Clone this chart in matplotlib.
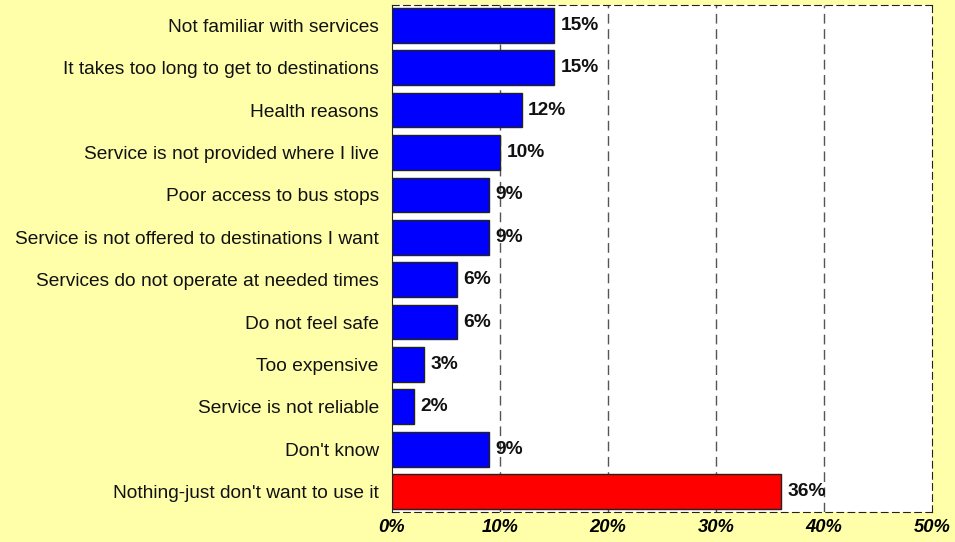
import matplotlib.pyplot as plt
import numpy as np

# Categories and values (percent)
categorias = [
    "Not familiar with services",
    "It takes too long to get to destinations",
    "Health reasons",
    "Service is not provided where I live",
    "Poor access to bus stops",
    "Service is not offered to destinations I want",
    "Services do not operate at needed times",
    "Do not feel safe",
    "Too expensive",
    "Service is not reliable",
    "Don't know",
    "Nothing-just don't want to use it",
]
valores = [15, 15, 12, 10, 9, 9, 6, 6, 3, 2, 9, 36]
colores = ["#0000FF"] * 11 + ["#FF0000"]
ticks_x = [0, 10, 20, 30, 40, 50]

plt.rcParams['font.family'] = ['Liberation Sans', 'DejaVu Sans']

fig = plt.figure(figsize=(9.55, 5.42), dpi=100, facecolor="#FFFFAA")
ax = fig.add_axes([0.4105, 0.0554, 0.5655, 0.9354])
ax.set_facecolor("white")

y = np.arange(len(categorias))
ax.barh(y, valores, height=0.82, color=colores, edgecolor="#222222", linewidth=1, zorder=3)

# Etiquetas de valores
for yi, v in zip(y, valores):
    ax.text(v + 0.6, yi, f"{v}%", va="center", ha="left", fontsize=13.8, fontweight="bold",
            color="#111111", zorder=4)

ax.set_ylim(len(categorias) - 0.52, -0.48)
ax.set_xlim(0, 50)
ax.set_yticks(y)
ax.set_yticklabels(categorias, fontsize=13.8, color="#111111")
ax.set_xticks(ticks_x)
ax.set_xticklabels([f"{t}%" for t in ticks_x], fontsize=13.2, fontweight="bold", fontstyle="italic")
ax.tick_params(axis="y", length=0, pad=9.5)
ax.tick_params(axis="x", length=0, pad=5)

# Grid vertical discontinua
for t in ticks_x[1:-1]:
    ax.axvline(t, color="#555555", linestyle=(0, (7, 4)), linewidth=1, zorder=1)

for lado in ["top", "right", "bottom"]:
    ax.spines[lado].set_linestyle((0, (6, 4)))
    ax.spines[lado].set_color("#222222")
ax.spines["left"].set_color("#222222")

plt.savefig("out.png", dpi=100, facecolor=fig.get_facecolor())
